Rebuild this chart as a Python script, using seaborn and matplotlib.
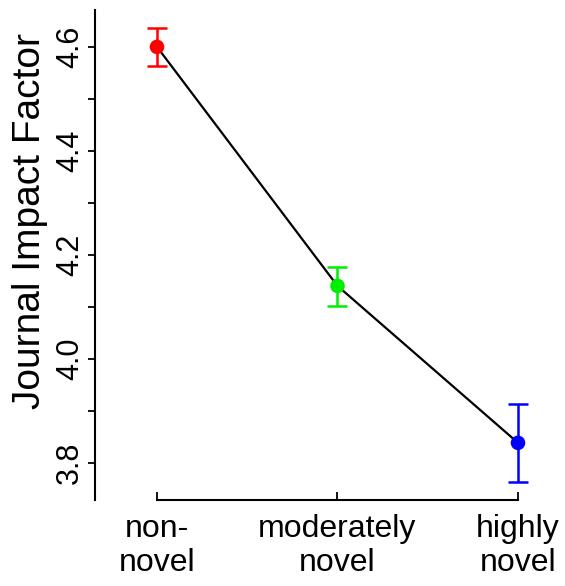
import matplotlib
matplotlib.use("Agg")
import matplotlib.pyplot as plt
import seaborn as sns
import numpy as np
import pandas as pd

categories = ["non-\nnovel", "moderately\nnovel", "highly\nnovel"]
means = [4.600, 4.140, 3.838]
lower = [4.563, 4.102, 3.763]
upper = [4.636, 4.177, 3.912]
colors = ["#FF0000", "#00EE00", "#0000FF"]
yticks = [3.8, 4.0, 4.2, 4.4, 4.6]
yticks_minor = [3.9, 4.1, 4.3, 4.5]

sns.set_theme(style="white")
plt.rcParams["font.family"] = ["Liberation Sans", "DejaVu Sans"]
plt.rcParams["text.color"] = "black"
plt.rcParams["xtick.color"] = "black"
plt.rcParams["ytick.color"] = "black"
plt.rcParams["axes.labelcolor"] = "black"

pos = np.arange(len(categories))
df = pd.DataFrame({"pos": pos, "mean": means, "cat": categories})

fig = plt.figure(figsize=(5.65, 5.86), dpi=100)
ax = fig.add_axes([95 / 565, 1 - 500 / 586, 450 / 565, 490 / 586])

sns.lineplot(data=df, x="pos", y="mean", color="black", linewidth=1.6, ax=ax, zorder=2)
for i in range(len(categories)):
    ax.errorbar(pos[i], means[i],
                yerr=[[means[i] - lower[i]], [upper[i] - means[i]]],
                fmt="none", ecolor=colors[i], elinewidth=1.8, capsize=7, capthick=1.8, zorder=3)
sns.scatterplot(data=df, x="pos", y="mean", hue="cat", palette=colors, s=110,
                edgecolor="none", legend=False, ax=ax, zorder=4)

ax.set_xlim(-0.3435, 2.1496)
ax.set_ylim(3.728, 4.671)

ax.set_xticks(pos)
ax.set_xticklabels(categories, fontsize=23, linespacing=1.18)
ax.set_yticks(yticks)
ax.set_yticks(yticks_minor, minor=True)
ax.set_yticklabels([f"{t:.1f}" for t in yticks], fontsize=22, rotation=90, va="center")

ax.tick_params(axis="y", which="both", direction="out", length=5, width=1.3, color="black", pad=2, left=True, labelcolor="black")
ax.tick_params(axis="x", which="both", direction="in", length=6, width=1.3, color="black", pad=10, bottom=True, labelcolor="black")

for s in ["top", "right"]:
    ax.spines[s].set_visible(False)
ax.spines["left"].set_linewidth(1.5)
ax.spines["left"].set_color("black")
ax.spines["bottom"].set_linewidth(1.5)
ax.spines["bottom"].set_color("black")
ax.spines["bottom"].set_bounds(0, 2)

ax.set_xlabel("")
ax.set_ylabel("Journal Impact Factor", fontsize=28, color="black")
ax.yaxis.set_label_coords(-0.104, 0.569)

fig.savefig("out.png", dpi=100, facecolor="white")
